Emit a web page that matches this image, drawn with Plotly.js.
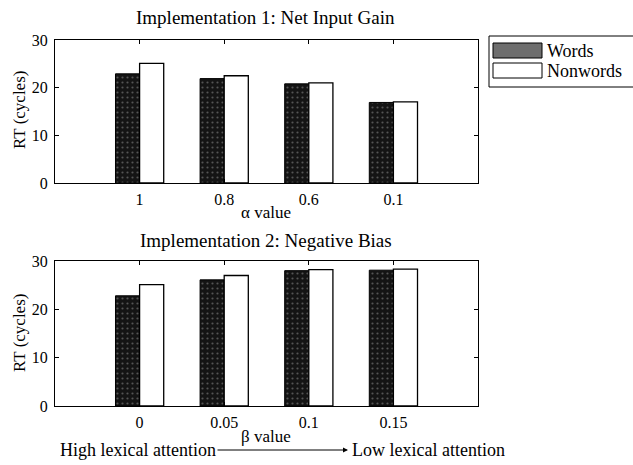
<!DOCTYPE html>
<html><head><meta charset="utf-8">
<script src="https://cdn.plot.ly/plotly-3.0.1.min.js"></script>
<style>html,body{margin:0;padding:0;background:#fff}</style>
</head><body><div id="chart" style="width:633px;height:465px"></div>
<script>
const positions = [1, 2, 3, 4];
const alphaLabels = ['1', '0.8', '0.6', '0.1'];
const betaLabels = ['0', '0.05', '0.1', '0.15'];
const wordsAlpha = [22.9, 21.9, 20.8, 16.9];
const nonwordsAlpha = [25.1, 22.5, 21.0, 17.0];
const wordsBeta = [22.8, 26.1, 28.0, 28.1];
const nonwordsBeta = [25.1, 27.0, 28.2, 28.3];
const seriesNames = ['Words', 'Nonwords'];

const FONT = 'Liberation Serif, Times New Roman, serif';
const wordsMarker = {
  color: '#141414',
  line: {color: '#000', width: 1},
  pattern: {shape: '.', fgcolor: '#555', bgcolor: '#141414', size: 5, solidity: 0.15}
};
const nonwordsMarker = {color: '#ffffff', line: {color: '#000', width: 1.3}};

const traces = [
  {type: 'bar', x: positions, y: wordsAlpha, name: seriesNames[0], marker: wordsMarker, xaxis: 'x', yaxis: 'y'},
  {type: 'bar', x: positions, y: nonwordsAlpha, name: seriesNames[1], marker: nonwordsMarker, xaxis: 'x', yaxis: 'y'},
  {type: 'bar', x: positions, y: wordsBeta, name: seriesNames[0], marker: wordsMarker, xaxis: 'x2', yaxis: 'y2'},
  {type: 'bar', x: positions, y: nonwordsBeta, name: seriesNames[1], marker: nonwordsMarker, xaxis: 'x2', yaxis: 'y2'}
];

const tickFont = {family: FONT, size: 16, color: '#000'};
const xCommon = {
  range: [0, 5], tickmode: 'array', tickvals: positions,
  showline: true, linecolor: '#000', linewidth: 1, mirror: 'ticks',
  ticks: 'inside', ticklen: 4, tickcolor: '#000', showgrid: false, zeroline: false,
  tickfont: tickFont, ticklabelstandoff: 2
};
const yCommon = {
  range: [0, 30], tickvals: [0, 10, 20, 30],
  showline: true, linecolor: '#000', linewidth: 1, mirror: 'ticks',
  ticks: 'inside', ticklen: 4, tickcolor: '#000', showgrid: false, zeroline: false,
  tickfont: tickFont, ticklabelstandoff: 3
};

const W = 633, H = 465;
const px = v => v / W, py = v => 1 - v / H;
const titleFont = {family: FONT, size: 19, color: '#000'};
const labelFont = {family: FONT, size: 17, color: '#000'};
const noteFont = {family: FONT, size: 18, color: '#000'};
const legendFont = {family: FONT, size: 18, color: '#000'};

const ann = (text, x, y, font, extra) => Object.assign(
  {text: text, xref: 'paper', yref: 'paper', x: px(x), y: py(y), showarrow: false, font: font, xanchor: 'center', yanchor: 'middle'},
  extra || {});

const layout = {
  width: W, height: H,
  margin: {l: 0, r: 0, t: 0, b: 0},
  paper_bgcolor: '#fff', plot_bgcolor: '#fff',
  barmode: 'group', bargap: 0.43, bargroupgap: 0,
  showlegend: false,
  xaxis: Object.assign({}, xCommon, {domain: [px(55), px(478)], anchor: 'y', ticktext: alphaLabels}),
  yaxis: Object.assign({}, yCommon, {domain: [py(183), py(40)], anchor: 'x'}),
  xaxis2: Object.assign({}, xCommon, {domain: [px(55), px(478)], anchor: 'y2', ticktext: betaLabels}),
  yaxis2: Object.assign({}, yCommon, {domain: [py(406), py(261)], anchor: 'x2'}),
  shapes: [
    // legend frame and swatches
    {type: 'rect', xref: 'paper', yref: 'paper', x0: px(489), x1: px(645), y0: py(87), y1: py(36), line: {color: '#000', width: 1}, fillcolor: '#fff'},
    {type: 'rect', xref: 'paper', yref: 'paper', x0: px(493), x1: px(542), y0: py(58), y1: py(43), line: {color: '#000', width: 1}, fillcolor: '#6e6e6e'},
    {type: 'rect', xref: 'paper', yref: 'paper', x0: px(493), x1: px(542), y0: py(78), y1: py(63), line: {color: '#000', width: 1}, fillcolor: '#fff'}
  ],
  annotations: [
    ann('Implementation 1: Net Input Gain', 265, 17, titleFont),
    ann('Implementation 2: Negative Bias', 266, 240, titleFont),
    ann('RT (cycles)', 19, 110, labelFont, {textangle: -90}),
    ann('RT (cycles)', 19, 333, labelFont, {textangle: -90}),
    ann('α value', 266, 213, labelFont),
    ann('β value', 266, 436, labelFont),
    ann(seriesNames[0], 545, 51, legendFont, {xanchor: 'left'}),
    ann(seriesNames[1], 545, 71, legendFont, {xanchor: 'left'}),
    {text: 'High lexical attention', xref: 'paper', yref: 'paper', x: px(348), y: py(450), ax: -210, ay: 0,
      showarrow: true, arrowhead: 2, arrowsize: 1, arrowwidth: 1, arrowcolor: '#000', font: noteFont, standoff: 0, startstandoff: 0},
    ann('Low lexical attention', 350, 450, noteFont, {xanchor: 'left'})
  ]
};

Plotly.newPlot('chart', traces, layout, {displayModeBar: false, staticPlot: true});
</script></body></html>
